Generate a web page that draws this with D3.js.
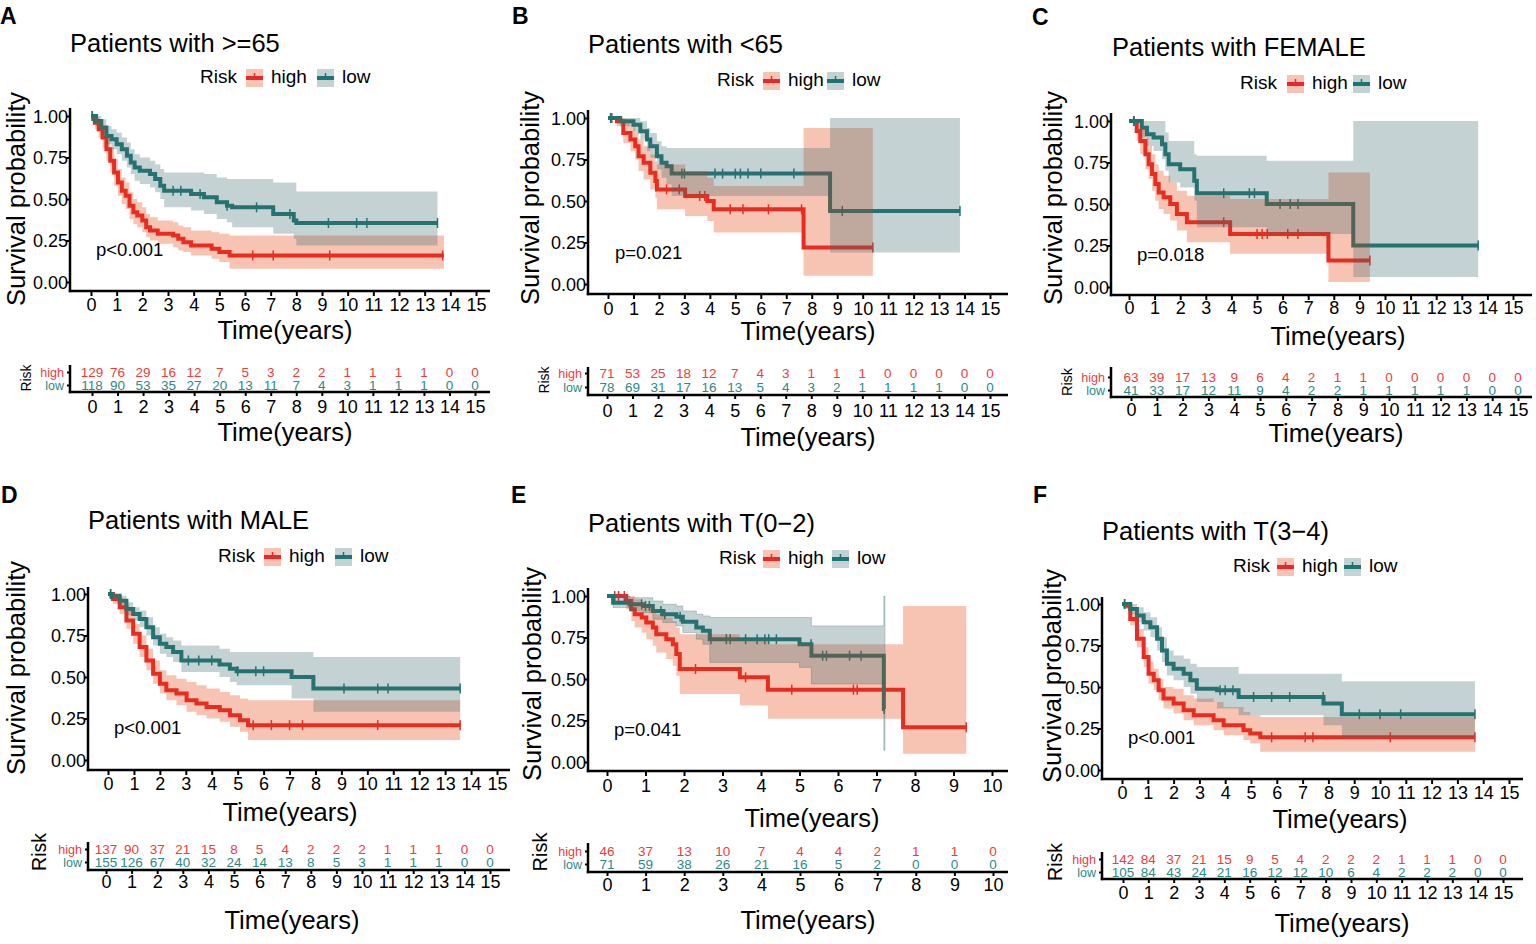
<!DOCTYPE html>
<html>
<head>
<meta charset="utf-8">
<script src="https://cdn.jsdelivr.net/npm/d3@7"></script>
<style>
body { margin: 0; background: #fff; }
svg text { font-family: "Liberation Sans", Arial, sans-serif; }
</style>
</head>
<body>
<div id="draw"></div>
<script>
// ---- data ----
var panelLetters = ['A', 'B', 'C', 'D', 'E', 'F'];
var titles = ['Patients with >=65', 'Patients with <65', 'Patients with FEMALE',
              'Patients with MALE', 'Patients with T(0\u22122)', 'Patients with T(3\u22124)'];
var pLabels = ['p<0.001', 'p=0.021', 'p=0.018', 'p<0.001', 'p=0.041', 'p<0.001'];
var xMax = [15, 15, 15, 15, 10, 15];
var yTicks = [0, 0.25, 0.5, 0.75, 1];
var yTickLabels = ['0.00', '0.25', '0.50', '0.75', '1.00'];
var groups = ['high', 'low'];

// steps: [time, survival, lower CI, upper CI]
var aHigh = [[0,1,0.98,1],[0.15,0.96,0.92,0.99],[0.3,0.92,0.87,0.97],[0.45,0.87,0.81,0.93],[0.6,0.8,0.73,0.87],
  [0.75,0.73,0.66,0.81],[0.9,0.66,0.58,0.74],[1.05,0.6,0.52,0.68],[1.2,0.55,0.47,0.63],[1.35,0.52,0.44,0.6],
  [1.5,0.46,0.38,0.54],[1.65,0.42,0.35,0.5],[1.8,0.4,0.33,0.48],[2.0,0.37,0.3,0.45],[2.15,0.33,0.27,0.41],
  [2.3,0.31,0.25,0.39],[2.6,0.29,0.23,0.37],[3.2,0.28,0.21,0.36],[3.4,0.26,0.19,0.34],[3.6,0.24,0.18,0.33],
  [3.9,0.22,0.16,0.31],[4.7,0.2,0.14,0.3],[5.0,0.18,0.12,0.29],[5.4,0.16,0.08,0.28]];
var aLow = [[0,1,0.98,1],[0.2,0.97,0.94,1],[0.4,0.93,0.89,0.98],[0.6,0.88,0.83,0.94],[0.8,0.86,0.8,0.92],
  [1.0,0.83,0.77,0.9],[1.2,0.8,0.73,0.87],[1.4,0.76,0.69,0.84],[1.55,0.72,0.65,0.8],[1.7,0.69,0.61,0.77],
  [1.9,0.67,0.59,0.75],[2.3,0.65,0.57,0.73],[2.5,0.62,0.54,0.71],[2.7,0.58,0.5,0.68],[2.85,0.55,0.45,0.66],
  [3.9,0.53,0.43,0.66],[4.4,0.51,0.41,0.65],[4.9,0.48,0.38,0.63],[5.3,0.46,0.36,0.62],[5.5,0.45,0.33,0.62],
  [7.1,0.41,0.29,0.6],[7.9,0.37,0.26,0.6],[8.0,0.355,0.22,0.545]];
var aEnds = [13.75, 13.5];
var aHighCens = [0.05, 6.3, 7.1, 9.3, 13.7];
var aLowCens = [0.05, 3.2, 3.5, 4.25, 5.3, 6.45, 7.75, 9.25, 10.35, 10.75, 13.5];
var aRiskHigh = [129, 76, 29, 16, 12, 7, 5, 3, 2, 2, 1, 1, 1, 1, 0, 0];
var aRiskLow = [118, 90, 53, 35, 27, 20, 13, 11, 7, 4, 3, 1, 1, 1, 0, 0];

var bHigh = [[0,1,1,1],[0.35,0.98,0.95,1],[0.6,0.91,0.85,0.98],[0.88,0.87,0.8,0.95],[1.07,0.83,0.75,0.92],
  [1.2,0.77,0.68,0.87],[1.4,0.73,0.63,0.83],[1.66,0.67,0.57,0.78],[1.86,0.62,0.52,0.74],[1.92,0.57,0.45,0.72],
  [3.03,0.53,0.41,0.68],[3.9,0.5,0.38,0.64],[4.15,0.45,0.31,0.59],[7.68,0.22,0.05,0.94]];
var bLow = [[0,1,1,1],[0.48,0.98,0.95,1],[1.0,0.96,0.92,1],[1.27,0.92,0.87,0.98],[1.53,0.87,0.8,0.94],
  [1.66,0.83,0.76,0.91],[1.92,0.77,0.69,0.86],[2.1,0.73,0.64,0.83],[2.3,0.71,0.6,0.82],[2.5,0.665,0.53,0.82],
  [8.72,0.44,0.19,1.0]];
var bEnds = [10.4, 13.82];
var bHighCens = [0.15, 2.3, 2.8, 3.6, 3.8, 4.8, 5.3, 6.3, 7.6, 10.4];
var bLowCens = [0.1, 2.9, 3.0, 4.2, 4.5, 5.0, 5.2, 5.5, 6.0, 7.3, 9.2, 13.82];
var bRiskHigh = [71, 53, 25, 18, 12, 7, 4, 3, 1, 1, 1, 0, 0, 0, 0, 0];
var bRiskLow = [78, 69, 31, 17, 16, 13, 5, 4, 3, 2, 1, 1, 1, 1, 0, 0];

var cHigh = [[0,1,1,1],[0.3,0.94,0.88,1],[0.44,0.88,0.8,0.96],[0.64,0.8,0.71,0.9],[0.77,0.74,0.65,0.85],
  [0.9,0.68,0.58,0.8],[1.03,0.62,0.52,0.74],[1.16,0.57,0.47,0.7],[1.35,0.54,0.44,0.67],[1.61,0.5,0.4,0.63],
  [1.87,0.44,0.34,0.58],[2.26,0.39,0.27,0.55],[3.95,0.32,0.2,0.53],[7.79,0.16,0.03,0.69]];
var cLow = [[0,1,1,1],[0.5,0.96,0.9,1],[0.7,0.92,0.85,1],[0.96,0.9,0.82,1],[1.29,0.86,0.77,1],
  [1.42,0.8,0.7,0.93],[1.55,0.74,0.63,0.88],[2.0,0.71,0.6,0.88],[2.55,0.64,0.52,0.8],[2.65,0.565,0.36,0.79],
  [5.38,0.5,0.32,0.76],[8.76,0.25,0.06,1.0]];
var cEnds = [9.41, 13.64];
var cHighCens = [0.18, 3.7, 5.0, 5.2, 5.4, 6.2, 6.6, 9.41];
var cLowCens = [0.2, 3.7, 4.7, 4.9, 5.9, 6.3, 6.6, 13.64];
var cRiskHigh = [63, 39, 17, 13, 9, 6, 4, 2, 1, 1, 0, 0, 0, 0, 0, 0];
var cRiskLow = [41, 33, 17, 12, 11, 9, 4, 2, 2, 1, 1, 1, 1, 1, 0, 0];

var dHigh = [[0,1,1,1],[0.19,0.97,0.94,1],[0.45,0.92,0.88,0.96],[0.71,0.84,0.79,0.9],[0.97,0.76,0.7,0.82],
  [1.22,0.68,0.62,0.75],[1.48,0.6,0.54,0.67],[1.74,0.52,0.46,0.6],[2.0,0.46,0.4,0.54],[2.25,0.42,0.36,0.51],
  [2.64,0.4,0.33,0.49],[3.03,0.36,0.29,0.47],[3.41,0.34,0.27,0.45],[3.8,0.32,0.25,0.43],[4.31,0.3,0.23,0.41],
  [4.7,0.27,0.2,0.39],[5.09,0.24,0.17,0.37],[5.4,0.21,0.12,0.36]];
var dLow = [[0,1,1,1],[0.13,0.99,0.97,1],[0.45,0.96,0.93,0.99],[0.71,0.91,0.87,0.95],[0.97,0.88,0.84,0.92],
  [1.22,0.85,0.8,0.9],[1.48,0.8,0.75,0.86],[1.74,0.74,0.69,0.8],[2.0,0.7,0.64,0.76],[2.25,0.68,0.62,0.74],
  [2.51,0.65,0.59,0.72],[2.83,0.6,0.53,0.69],[4.3,0.575,0.5,0.67],[4.7,0.55,0.47,0.65],[4.96,0.535,0.45,0.65],
  [7.08,0.5,0.37,0.65],[7.92,0.43,0.29,0.62]];
var dEnds = [13.58, 13.58];
var dHighCens = [0.1, 5.6, 6.3, 7.0, 7.5, 10.4, 13.58];
var dLowCens = [0.1, 3.1, 3.5, 4.0, 5.0, 5.7, 6.0, 9.1, 10.4, 10.8, 13.58];
var dRiskHigh = [137, 90, 37, 21, 15, 8, 5, 4, 2, 2, 2, 1, 1, 1, 0, 0];
var dRiskLow = [155, 126, 67, 40, 32, 24, 14, 13, 8, 5, 3, 1, 1, 1, 0, 0];

var eHigh = [[0,1,1,1],[0.5,0.97,0.92,1],[0.63,0.92,0.85,1],[0.72,0.89,0.81,0.98],[0.9,0.87,0.78,0.96],
  [1.02,0.84,0.74,0.94],[1.19,0.81,0.7,0.92],[1.28,0.77,0.66,0.89],[1.54,0.74,0.62,0.87],[1.71,0.71,0.58,0.85],
  [1.8,0.65,0.52,0.81],[1.89,0.56,0.41,0.77],[3.45,0.51,0.34,0.73],[4.18,0.435,0.26,0.71],[7.69,0.21,0.05,0.94]];
var eLow = [[0,1,1,1],[0.16,0.96,0.93,1],[0.59,0.95,0.91,0.99],[0.94,0.94,0.9,0.99],[1.19,0.91,0.86,0.97],
  [1.45,0.89,0.84,0.95],[1.8,0.875,0.82,0.94],[1.97,0.845,0.78,0.91],[2.32,0.81,0.74,0.89],[2.49,0.79,0.71,0.88],
  [2.67,0.74,0.6,0.87],[5.0,0.71,0.57,0.87],[5.31,0.64,0.47,0.82],[7.19,0.32,0.07,1.0]];
var eEnds = [9.33, 7.22];
var eHighCens = [0.2, 0.3, 0.45, 2.3, 3.6, 4.8, 6.4, 6.5, 9.33];
var eLowCens = [0.6, 0.9, 1.0, 1.1, 1.4, 1.5, 1.9, 2.7, 3.1, 3.2, 3.6, 3.9, 4.1, 4.2, 4.4, 5.3, 5.6, 5.7, 6.3, 6.6, 7.2];
var eRiskHigh = [46, 37, 13, 10, 7, 4, 4, 2, 1, 1, 0];
var eRiskLow = [71, 59, 38, 26, 21, 16, 5, 2, 0, 0, 0];

var fHigh = [[0,1,1,1],[0.13,0.99,0.97,1],[0.32,0.91,0.87,0.95],[0.58,0.79,0.74,0.85],[0.84,0.68,0.62,0.74],
  [1.03,0.58,0.52,0.65],[1.23,0.54,0.48,0.61],[1.42,0.48,0.42,0.55],[1.61,0.43,0.37,0.5],[2.0,0.4,0.34,0.49],
  [2.39,0.36,0.3,0.45],[2.78,0.33,0.27,0.43],[3.55,0.3,0.24,0.41],[3.94,0.27,0.21,0.38],[4.71,0.24,0.18,0.35],
  [4.97,0.22,0.16,0.33],[5.36,0.197,0.11,0.32]];
var fLow = [[0,1,1,1],[0.32,0.97,0.94,1],[0.58,0.93,0.89,0.98],[0.84,0.89,0.84,0.95],[1.1,0.86,0.8,0.92],
  [1.36,0.79,0.72,0.86],[1.55,0.72,0.65,0.8],[1.74,0.64,0.57,0.72],[2.0,0.61,0.54,0.69],[2.39,0.58,0.5,0.67],
  [2.65,0.54,0.46,0.64],[2.9,0.49,0.41,0.62],[3.68,0.48,0.37,0.62],[4.52,0.44,0.33,0.58],[7.81,0.4,0.27,0.58],
  [8.52,0.336,0.2,0.535]];
var fEnds = [13.68, 13.68];
var fHighCens = [0.1, 5.8, 7.1, 7.4, 10.4, 13.68];
var fLowCens = [0.1, 3.8, 4.0, 4.3, 5.1, 5.8, 6.5, 7.8, 9.2, 10.0, 10.8, 13.68];
var fRiskHigh = [142, 84, 37, 21, 15, 9, 5, 4, 2, 2, 2, 1, 1, 1, 0, 0];
var fRiskLow = [105, 84, 43, 24, 21, 16, 12, 12, 10, 6, 4, 2, 2, 2, 0, 0];

var curves = [[aHigh, aLow], [bHigh, bLow], [cHigh, cLow], [dHigh, dLow], [eHigh, eLow], [fHigh, fLow]];
var ends = [aEnds, bEnds, cEnds, dEnds, eEnds, fEnds];
var cens = [[aHighCens, aLowCens], [bHighCens, bLowCens], [cHighCens, cLowCens],
            [dHighCens, dLowCens], [eHighCens, eLowCens], [fHighCens, fLowCens]];
var risks = [[aRiskHigh, aRiskLow], [bRiskHigh, bRiskLow], [cRiskHigh, cRiskLow],
             [dRiskHigh, dRiskLow], [eRiskHigh, eRiskLow], [fRiskHigh, fRiskLow]];

// ---- styling ----
var lineCol = ['#E8282B', '#1B7673'];
var bandCol = ['#E43A05', '#3E696C'];
var bandAlpha = 0.3;
var textCol = ['#EE3B3B', '#2A8A86'];

// ---- layout per panel (pixel positions) ----
var layout = [
  {letter:[0,24], title:[70,52], lg:[200,83,46,117], yAxisX:70, top:108, bottom:291, xEnd:490,
   x0:91, x1:476, y1:116, y0:282, xlab:311, xTitle:[285,339], yTitle:[25,199], p:[96,256],
   rAxisY:392, rTop:365, rx0:92, rx1:475, rHigh:372, rLow:385, rLab:413, rTitle:[285,441], rRisk:[31,378], rFont:14},
  {letter:[512,24], title:[588,53], lg:[717,86,46,110], yAxisX:588, top:110, bottom:294, xEnd:1008,
   x0:608, x1:990, y1:118, y0:284, xlab:315, xTitle:[808,340], yTitle:[539,198], p:[615,259],
   rAxisY:395, rTop:367, rx0:607, rx1:990, rHigh:373, rLow:387, rLab:417, rTitle:[808,446], rRisk:[549,380], rFont:14},
  {letter:[1032,25], title:[1112,56], lg:[1240,89,47,113], yAxisX:1111, top:113, bottom:295, xEnd:1532,
   x0:1129, x1:1513, y1:121, y0:287, xlab:314, xTitle:[1338,345], yTitle:[1062,198], p:[1137,261],
   rAxisY:397, rTop:367, rx0:1131, rx1:1518, rHigh:377, rLow:390, rLab:416, rTitle:[1336,442], rRisk:[1072,382], rFont:14.5},
  {letter:[1,503], title:[88,529], lg:[218,562,46,117], yAxisX:88, top:587, bottom:770, xEnd:510,
   x0:108, x1:497, y1:594, y0:760, xlab:790, xTitle:[290,821], yTitle:[25,668], p:[114,734],
   rAxisY:870, rTop:842, rx0:106, rx1:490, rHigh:849, rLow:862, rLab:888, rTitle:[292,929], rRisk:[46,852], rFont:19.5},
  {letter:[511,503], title:[588,532], lg:[719,564,44,113], yAxisX:588, top:588, bottom:771, xEnd:1008,
   x0:607, x1:992, y1:596, y0:762, xlab:792, xTitle:[812,827], yTitle:[541,674], p:[614,736],
   rAxisY:872, rTop:843, rx0:607, rx1:993, rHigh:851, rLow:864, rLab:891, rTitle:[808,929], rRisk:[547,852], rFont:20},
  {letter:[1033,503], title:[1102,540], lg:[1233,572,44,111], yAxisX:1102, top:597, bottom:779, xEnd:1523,
   x0:1122, x1:1509, y1:604, y0:770, xlab:799, xTitle:[1340,828], yTitle:[1061,676], p:[1128,744],
   rAxisY:879, rTop:852, rx0:1123, rx1:1503, rHigh:859, rLow:872, rLab:899, rTitle:[1342,932], rRisk:[1062,862], rFont:19.5}
];

function survAt(steps, t) {
  var s = steps[0][1];
  for (var k = 0; k < steps.length; k++) { if (steps[k][0] <= t) s = steps[k][1]; }
  return s;
}

function drawPanel(svg, i) {
  var L = layout[i];
  var g = svg.append('g');
  var x = d3.scaleLinear().domain([0, xMax[i]]).range([L.x0, L.x1]);
  var y = d3.scaleLinear().domain([0, 1]).range([L.y0, L.y1]);

  // letter + title
  g.append('text').attr('x', L.letter[0]).attr('y', L.letter[1])
    .attr('font-size', 23).attr('font-weight', 'bold').text(panelLetters[i]);
  g.append('text').attr('x', L.title[0]).attr('y', L.title[1])
    .attr('font-size', 25.5).text(titles[i]);

  // legend
  var lx = L.lg[0], ly = L.lg[1];
  g.append('text').attr('x', lx).attr('y', ly).attr('font-size', 19).text('Risk');
  [L.lg[2], L.lg[3]].forEach(function(off, k) {
    var bx = lx + off;
    g.append('rect').attr('x', bx).attr('y', ly - 14).attr('width', 17).attr('height', 18)
      .attr('fill', bandCol[k]).attr('fill-opacity', bandAlpha);
    g.append('line').attr('x1', bx).attr('x2', bx + 17).attr('y1', ly - 5).attr('y2', ly - 5)
      .attr('stroke', lineCol[k]).attr('stroke-width', 4);
    g.append('line').attr('x1', bx + 8.5).attr('x2', bx + 8.5).attr('y1', ly - 10).attr('y2', ly - 5)
      .attr('stroke', lineCol[k]).attr('stroke-width', 1.5);
    g.append('text').attr('x', bx + 25).attr('y', ly).attr('font-size', 19).text(groups[k]);
  });

  // curves
  var line = d3.line().curve(d3.curveStepAfter).x(function(d) { return x(d[0]); }).y(function(d) { return y(d[1]); });
  var area = d3.area().curve(d3.curveStepAfter).x(function(d) { return x(d[0]); })
    .y0(function(d) { return y(d[2]); }).y1(function(d) { return y(d[3]); });
  var pts = curves[i].map(function(steps, k) {
    var last = steps[steps.length - 1];
    return steps.concat([[ends[i][k], last[1], last[2], last[3]]]);
  });
  pts.forEach(function(p, k) {
    g.append('path').attr('d', line(p)).attr('fill', 'none')
      .attr('stroke', lineCol[k]).attr('stroke-width', 4);
    g.selectAll('.cens' + k).data(cens[i][k]).enter().append('line')
      .attr('x1', function(d) { return x(d); }).attr('x2', function(d) { return x(d); })
      .attr('y1', function(d) { return y(survAt(curves[i][k], d)) - 5; })
      .attr('y2', function(d) { return y(survAt(curves[i][k], d)) + 5; })
      .attr('stroke', lineCol[k]).attr('stroke-width', 1.5);
  });
  // confidence ribbons sit on top of the lines, as in the original
  pts.forEach(function(p, k) {
    g.append('path').attr('d', area(p)).attr('fill', bandCol[k]).attr('fill-opacity', bandAlpha)
      .attr('stroke', k === 1 && i === 4 ? bandCol[k] : 'none').attr('stroke-opacity', 0.3).attr('stroke-width', 1);
  });

  // p value
  g.append('text').attr('x', L.p[0]).attr('y', L.p[1]).attr('font-size', 18.5).text(pLabels[i]);

  // axes
  var xa = g.append('g').attr('transform', 'translate(0,' + L.bottom + ')')
    .call(d3.axisBottom(x).tickValues(d3.range(0, xMax[i] + 1)).tickSize(5).tickSizeOuter(0));
  xa.select('.domain').remove();
  xa.selectAll('line').attr('stroke', '#000').attr('stroke-width', 2);
  xa.selectAll('text').attr('font-size', 18).attr('fill', '#000').attr('dy', null).attr('y', L.xlab - L.bottom);

  var ya = g.append('g').attr('transform', 'translate(' + L.yAxisX + ',0)')
    .call(d3.axisLeft(y).tickValues(yTicks).tickFormat(function(d, k) { return yTickLabels[k]; })
      .tickSize(4).tickSizeOuter(0));
  ya.select('.domain').remove();
  ya.selectAll('line').attr('stroke', '#000').attr('stroke-width', 2);
  ya.selectAll('text').attr('font-size', 18).attr('fill', '#000').attr('x', -2).attr('dy', '0.36em');

  g.append('line').attr('x1', L.yAxisX).attr('x2', L.yAxisX).attr('y1', L.top).attr('y2', L.bottom + 1.2)
    .attr('stroke', '#000').attr('stroke-width', 2.5);
  g.append('line').attr('x1', L.yAxisX - 1.2).attr('x2', L.xEnd).attr('y1', L.bottom).attr('y2', L.bottom)
    .attr('stroke', '#000').attr('stroke-width', 2.5);

  g.append('text').attr('x', L.xTitle[0]).attr('y', L.xTitle[1]).attr('text-anchor', 'middle')
    .attr('font-size', 25.5).text('Time(years)');
  g.append('text').attr('transform', 'translate(' + L.yTitle[0] + ',' + L.yTitle[1] + ') rotate(-90)')
    .attr('text-anchor', 'middle').attr('font-size', 25.5).text('Survival probability');

  // risk table
  var rx = d3.scaleLinear().domain([0, xMax[i]]).range([L.rx0, L.rx1]);
  var ry = d3.scalePoint().domain(groups).range([L.rHigh, L.rLow]);
  groups.forEach(function(gr, k) {
    g.selectAll('.risk' + k).data(risks[i][k]).enter().append('text')
      .attr('x', function(d, j) { return rx(j); }).attr('y', ry(gr)).attr('dy', '0.36em')
      .attr('text-anchor', 'middle').attr('font-size', 13.5).attr('fill', textCol[k])
      .text(function(d) { return d; });
  });
  var rya = g.append('g').attr('transform', 'translate(' + L.yAxisX + ',0)')
    .call(d3.axisLeft(ry).tickSize(3).tickPadding(3));
  rya.select('.domain').remove();
  rya.selectAll('line').attr('stroke', '#000').attr('stroke-width', 2);
  rya.selectAll('text').attr('font-size', 12.5).attr('dy', '0.32em')
    .attr('fill', function(d) { return textCol[groups.indexOf(d)]; });

  var rxa = g.append('g').attr('transform', 'translate(0,' + L.rAxisY + ')')
    .call(d3.axisBottom(rx).tickValues(d3.range(0, xMax[i] + 1)).tickSize(4).tickSizeOuter(0));
  rxa.select('.domain').remove();
  rxa.selectAll('line').attr('stroke', '#000').attr('stroke-width', 2);
  rxa.selectAll('text').attr('font-size', 18).attr('fill', '#000').attr('dy', null).attr('y', L.rLab - L.rAxisY);

  g.append('line').attr('x1', L.yAxisX).attr('x2', L.yAxisX).attr('y1', L.rTop).attr('y2', L.rAxisY + 1.2)
    .attr('stroke', '#000').attr('stroke-width', 2.5);
  g.append('line').attr('x1', L.yAxisX - 1.2).attr('x2', L.xEnd).attr('y1', L.rAxisY).attr('y2', L.rAxisY)
    .attr('stroke', '#000').attr('stroke-width', 2.5);

  g.append('text').attr('x', L.rTitle[0]).attr('y', L.rTitle[1]).attr('text-anchor', 'middle')
    .attr('font-size', 25.5).text('Time(years)');
  g.append('text').attr('transform', 'translate(' + L.rRisk[0] + ',' + L.rRisk[1] + ') rotate(-90)')
    .attr('text-anchor', 'middle').attr('font-size', L.rFont).text('Risk');
}

function draw() {
  var svg = d3.select('#draw').append('svg').attr('width', 1536).attr('height', 944);
  svg.append('rect').attr('width', 1536).attr('height', 944).attr('fill', '#fff');
  for (var i = 0; i < layout.length; i++) drawPanel(svg, i);
}

draw();
</script>
</body>
</html>
